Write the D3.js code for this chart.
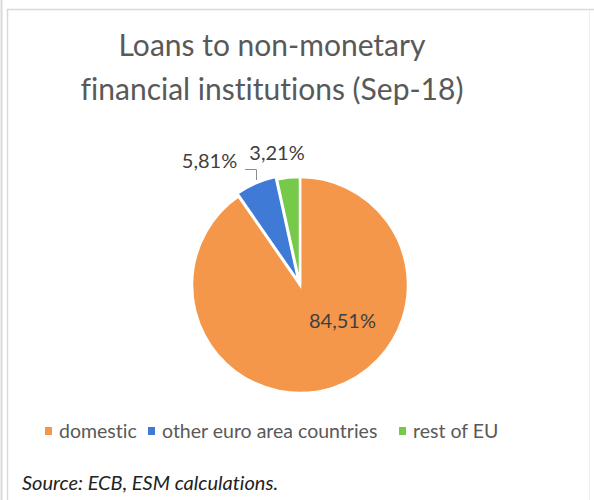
<!DOCTYPE html>
<html>
<head>
<meta charset="utf-8">
<script src="https://cdn.jsdelivr.net/npm/d3@7"></script>
<style>
  body { margin: 0; background: #fff; }
  svg { display: block; font-family: Lato, "Open Sans", sans-serif; font-variant-ligatures: none; }
</style>
</head>
<body>
<div id="chart"></div>
<script>
// datos del grafico
var categories = ["domestic", "other euro area countries", "rest of EU"];
var values = [84.51, 5.81, 3.21];
var labels = ["84,51%", "5,81%", "3,21%"];
var colors = ["#F4974A", "#3F7BD6", "#77C94A"];
var titleLines = ["Loans to non-monetary", "financial institutions (Sep-18)"];
var source = "Source: ECB, ESM calculations.";

var width = 594;
var height = 500;

var svg = d3.select("#chart")
    .append("svg")
    .attr("width", width)
    .attr("height", height);

// bordes
svg.append("line").attr("x1", 1.5).attr("x2", 1.5).attr("y1", 0).attr("y2", height)
    .attr("stroke", "#d9d9d9").attr("stroke-width", 2);
svg.append("path")
    .attr("d", "M7.5," + height + "V9.5H" + width)
    .attr("fill", "none").attr("stroke", "#d9d9d9").attr("stroke-width", 1.5);
svg.append("line").attr("x1", 589.5).attr("x2", 589.5).attr("y1", 10).attr("y2", height)
    .attr("stroke", "#eeeeee").attr("stroke-width", 1);

// titulo
svg.selectAll(".title")
    .data(titleLines)
    .enter()
    .append("text")
    .attr("class", "title")
    .attr("x", 272)
    .attr("y", (d, i) => 56 + i * 44)
    .attr("text-anchor", "middle")
    .attr("fill", "#595959")
    .attr("font-size", 30)
    .text(d => d);

// pie
var cx = 300, cy = 285, r = 108;
var pie = d3.pie().sort(null).value(d => d);
var arcs = pie(values);
var arc = d3.arc().innerRadius(0).outerRadius(r);

var g = svg.append("g").attr("transform", "translate(" + cx + "," + cy + ")");

g.selectAll("path")
    .data(arcs)
    .enter()
    .append("path")
    .attr("d", arc)
    .attr("transform", (d, i) => {
        if (i != 1) return null;
        var m = (d.startAngle + d.endAngle) / 2;
        return "translate(" + (Math.sin(m) * 3) + "," + (-Math.cos(m) * 3) + ")";
    })
    .attr("fill", (d, i) => colors[i])
    .attr("stroke", "#fff")
    .attr("stroke-width", 2.5);

// etiquetas
var labelPos = [[342.5, 328], [209.5, 168], [277, 160]];
svg.selectAll(".lbl")
    .data(labels)
    .enter()
    .append("text")
    .attr("class", "lbl")
    .attr("x", (d, i) => labelPos[i][0])
    .attr("y", (d, i) => labelPos[i][1])
    .attr("text-anchor", "middle")
    .attr("fill", "#404040")
    .attr("font-size", 20)
    .text(d => d);

// linea guia
svg.append("path")
    .attr("d", "M245,169.5H256.5V180")
    .attr("fill", "none")
    .attr("stroke", "#8c8c8c")
    .attr("stroke-width", 1);

// leyenda
var legendX = [45, 148, 399];
var legend = svg.selectAll(".leg")
    .data(categories)
    .enter()
    .append("g")
    .attr("class", "leg")
    .attr("transform", (d, i) => "translate(" + legendX[i] + ",431)");
legend.append("rect")
    .attr("x", 0).attr("y", -4)
    .attr("width", 7).attr("height", 8)
    .attr("fill", (d, i) => colors[i]);
legend.append("text")
    .attr("x", 14)
    .attr("y", 6.5)
    .attr("fill", "#595959")
    .attr("font-size", 19.5)
    .text(d => d);

// fuente
svg.append("text")
    .attr("x", 22)
    .attr("y", 490)
    .attr("font-style", "italic")
    .attr("fill", "#222")
    .attr("font-size", 20)
    .text(source);
</script>
</body>
</html>
